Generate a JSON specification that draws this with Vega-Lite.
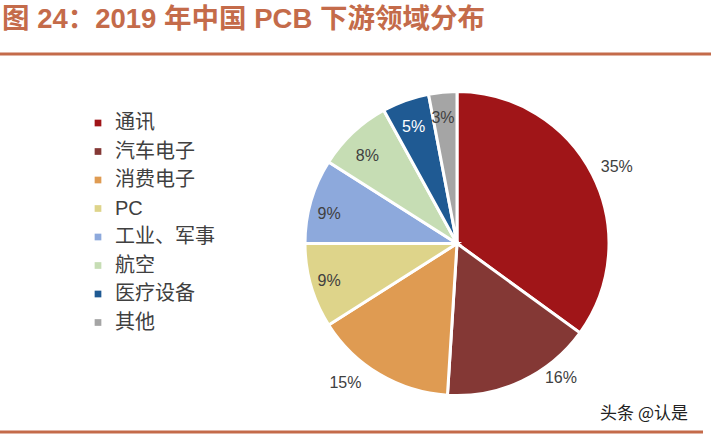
{
  "$schema": "https://vega.github.io/schema/vega-lite/v6.json",
  "width": 711,
  "height": 378,
  "autosize": {"type": "none"},
  "padding": {"top": 54, "left": 0, "right": 0, "bottom": 5},
  "background": "white",
  "title": {
    "text": "图 24：2019 年中国 PCB 下游领域分布",
    "anchor": "start",
    "frame": "group",
    "offset": 2,
    "dx": 2,
    "fontSize": 27.5,
    "font": "Liberation Sans, Noto Sans CJK SC",
    "fontWeight": "bold",
    "color": "#C46B4A"
  },
  "data": {
    "values": [
      {"category": "通讯", "value": 35, "rank": 1},
      {"category": "汽车电子", "value": 16, "rank": 2},
      {"category": "消费电子", "value": 15, "rank": 3},
      {"category": "PC", "value": 9, "rank": 4},
      {"category": "工业、军事", "value": 9, "rank": 5},
      {"category": "航空", "value": 8, "rank": 6},
      {"category": "医疗设备", "value": 5, "rank": 7},
      {"category": "其他", "value": 3, "rank": 8}
    ]
  },
  "layer": [
    {
      "mark": {"type": "arc", "outerRadius": 152, "stroke": "white", "strokeWidth": 3},
      "encoding": {
        "theta": {"field": "value", "type": "quantitative", "stack": true},
        "order": {"field": "rank", "type": "quantitative"},
        "color": {
          "field": "category",
          "type": "nominal",
          "sort": ["通讯", "汽车电子", "消费电子", "PC", "工业、军事", "航空", "医疗设备", "其他"],
          "scale": {
            "domain": ["通讯", "汽车电子", "消费电子", "PC", "工业、军事", "航空", "医疗设备", "其他"],
            "range": ["#A01518", "#843835", "#DF9B52", "#DED48A", "#8DA9DC", "#C6DDB4", "#1F5A93", "#A5A5A5"]
          },
          "legend": {
            "orient": "none",
            "legendX": 88,
            "legendY": 59,
            "title": null,
            "symbolType": "square",
            "symbolSize": 45,
            "symbolStrokeWidth": 0,
            "labelFontSize": 20,
            "labelFont": "Liberation Sans, Noto Sans CJK SC",
            "labelColor": "#404040",
            "labelOffset": 7,
            "rowPadding": 8.5
          }
        },
        "x": {"value": 457},
        "y": {"value": 189.5}
      }
    },
    {
      "transform": [{"calculate": "datum.category === '通讯' ? datum.value + '%' : ''", "as": "lab"}],
      "mark": {"type": "text", "radius": 176, "dx": 3, "dy": 3, "fontSize": 16, "font": "Liberation Sans", "color": "#404040"},
      "encoding": {
        "theta": {"field": "value", "type": "quantitative", "stack": true},
        "order": {"field": "rank", "type": "quantitative"},
        "text": {"field": "lab"},
        "x": {"value": 457},
        "y": {"value": 189.5}
      }
    },
    {
      "transform": [{"calculate": "datum.category === '汽车电子' ? datum.value + '%' : ''", "as": "lab"}],
      "mark": {"type": "text", "radius": 176, "dx": 29, "dy": -25, "fontSize": 16, "font": "Liberation Sans", "color": "#404040"},
      "encoding": {
        "theta": {"field": "value", "type": "quantitative", "stack": true},
        "order": {"field": "rank", "type": "quantitative"},
        "text": {"field": "lab"},
        "x": {"value": 457},
        "y": {"value": 189.5}
      }
    },
    {
      "transform": [{"calculate": "datum.category === '消费电子' ? datum.value + '%' : ''", "as": "lab"}],
      "mark": {"type": "text", "radius": 176, "dx": -22, "dy": -12, "fontSize": 16, "font": "Liberation Sans", "color": "#404040"},
      "encoding": {
        "theta": {"field": "value", "type": "quantitative", "stack": true},
        "order": {"field": "rank", "type": "quantitative"},
        "text": {"field": "lab"},
        "x": {"value": 457},
        "y": {"value": 189.5}
      }
    },
    {
      "transform": [{"calculate": "datum.category === 'PC' ? datum.value + '%' : ''", "as": "lab"}],
      "mark": {"type": "text", "radius": 128, "dx": -5, "dy": 2, "fontSize": 16, "font": "Liberation Sans", "color": "#404040"},
      "encoding": {
        "theta": {"field": "value", "type": "quantitative", "stack": true},
        "order": {"field": "rank", "type": "quantitative"},
        "text": {"field": "lab"},
        "x": {"value": 457},
        "y": {"value": 189.5}
      }
    },
    {
      "transform": [{"calculate": "datum.category === '工业、军事' ? datum.value + '%' : ''", "as": "lab"}],
      "mark": {"type": "text", "radius": 128, "dx": -5, "dy": 6, "fontSize": 16, "font": "Liberation Sans", "color": "#404040"},
      "encoding": {
        "theta": {"field": "value", "type": "quantitative", "stack": true},
        "order": {"field": "rank", "type": "quantitative"},
        "text": {"field": "lab"},
        "x": {"value": 457},
        "y": {"value": 189.5}
      }
    },
    {
      "transform": [{"calculate": "datum.category === '航空' ? datum.value + '%' : ''", "as": "lab"}],
      "mark": {"type": "text", "radius": 128, "dx": -2, "dy": 6, "fontSize": 16, "font": "Liberation Sans", "color": "#404040"},
      "encoding": {
        "theta": {"field": "value", "type": "quantitative", "stack": true},
        "order": {"field": "rank", "type": "quantitative"},
        "text": {"field": "lab"},
        "x": {"value": 457},
        "y": {"value": 189.5}
      }
    },
    {
      "transform": [{"calculate": "datum.category === '医疗设备' ? datum.value + '%' : ''", "as": "lab"}],
      "mark": {"type": "text", "radius": 128, "dx": 0, "dy": 4, "fontSize": 16, "font": "Liberation Sans", "color": "white"},
      "encoding": {
        "theta": {"field": "value", "type": "quantitative", "stack": true},
        "order": {"field": "rank", "type": "quantitative"},
        "text": {"field": "lab"},
        "x": {"value": 457},
        "y": {"value": 189.5}
      }
    },
    {
      "transform": [{"calculate": "datum.category === '其他' ? datum.value + '%' : ''", "as": "lab"}],
      "mark": {"type": "text", "radius": 128, "dx": -2, "dy": 2, "fontSize": 16, "font": "Liberation Sans", "color": "#404040"},
      "encoding": {
        "theta": {"field": "value", "type": "quantitative", "stack": true},
        "order": {"field": "rank", "type": "quantitative"},
        "text": {"field": "lab"},
        "x": {"value": 457},
        "y": {"value": 189.5}
      }
    },
    {
      "data": {"values": [{}]},
      "mark": {"type": "rule", "color": "#C46B4A", "strokeWidth": 3},
      "encoding": {"y": {"value": 0}}
    },
    {
      "data": {"values": [{}]},
      "mark": {"type": "rule", "color": "#C46B4A", "strokeWidth": 3},
      "encoding": {"y": {"value": 378}, "x": {"value": 0}, "x2": {"value": 703}}
    },
    {
      "data": {"values": [{"t": "头条 @认是"}]},
      "mark": {"type": "text", "align": "right", "baseline": "middle", "fontSize": 17, "font": "Noto Sans CJK SC", "color": "#222222"},
      "encoding": {"text": {"field": "t"}, "x": {"value": 688}, "y": {"value": 360}}
    }
  ],
  "config": {"view": {"stroke": null}}
}
